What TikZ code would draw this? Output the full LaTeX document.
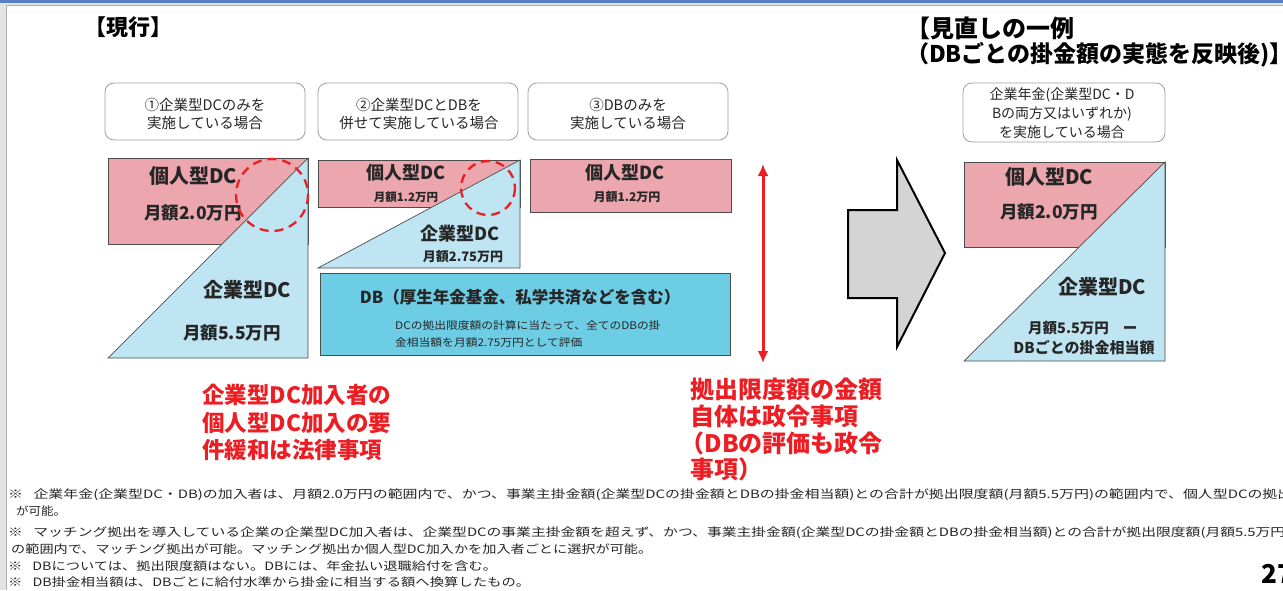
\documentclass[tikz,border=0pt]{standalone}
\usepackage{fontspec}
\setmainfont{Noto Sans CJK JP}
\usetikzlibrary{arrows.meta}
\definecolor{pinkc}{RGB}{235,166,174}
\definecolor{lblue}{RGB}{190,229,241}
\definecolor{dbc}{RGB}{108,205,228}
\definecolor{redc}{RGB}{236,30,36}
\definecolor{txt}{RGB}{38,38,38}
\definecolor{arrowg}{RGB}{212,212,212}
\definecolor{topblue}{RGB}{84,128,200}
\newcommand{\fsz}[2]{\fontsize{#1}{#2}\selectfont}
\newcommand{\fnw}[2]{\resizebox{#1pt}{\height}{#2}}
\begin{document}
\begin{tikzpicture}[x=1pt,y=-1pt,
  every node/.style={inner sep=0pt,text=txt},
  hd/.style={anchor=base west,font=\bfseries,text=black},
  casebox/.style={draw=gray!75,rounded corners=9pt,line width=0.8pt,fill=white},
  casetxt/.style={align=center,font=\fsz{14.5}{18}},
  pinkbox/.style={fill=pinkc,draw=black!70,line width=0.7pt},
  tri/.style={fill=lblue,draw=black!70,line width=0.7pt},
  ring/.style={draw=redc,line width=2.3pt,dash pattern=on 9pt off 6pt},
  lbl/.style={font=\bfseries},
  redtxt/.style={anchor=north west,align=left,text=redc,font=\bfseries},
  fn/.style={anchor=base west,font=\fsz{11.5}{14},text=black!85}
]
\useasboundingbox (0,0) rectangle (1283,590);
\clip (0,0) rectangle (1283,590);
\fill[white] (0,0) rectangle (1283,590);
% window frame
\fill[gray!22] (0,3) rectangle (6.5,590);
\fill[gray!22] (0,3) rectangle (1283,5.5);
\draw[gray!65,line width=0.8pt] (6.5,590) -- (6.5,5.5) -- (1283,5.5);
\fill[topblue] (0,0) rectangle (1283,3);

% headings
\node[hd,font=\fsz{22}{26}\bfseries] (h1) at (84,35.5) {【現行】};
\node[hd,font=\fsz{24}{28}\bfseries] (h2a) at (906,37) {【見直しの一例};
\node[hd,font=\fsz{23}{28}\bfseries] (h2b) at (906,62) {（DBごとの掛金額の実態を反映後)】};

% case boxes
\node[casebox,minimum width=200,minimum height=57] (c1) at (205,111.5) {};
\node[casetxt] (c1t) at (205,114) {①企業型DCのみを\\実施している場合};
\node[casebox,minimum width=200,minimum height=57] (c2) at (418,111.5) {};
\node[casetxt] (c2t) at (419,114) {②企業型DCとDBを\\併せて実施している場合};
\node[casebox,minimum width=200,minimum height=57] (c3) at (628,111.5) {};
\node[casetxt] (c3t) at (628,114) {③DBのみを\\実施している場合};
\node[casebox,minimum width=202,minimum height=59] (c4) at (1064,112.5) {};
\node[casetxt,font=\fsz{14}{19}] (c4t) at (1062,113.5) {企業年金(企業型DC・D\\Bの両方又はいずれか)\\を実施している場合};

% case 1
\draw[pinkbox] (108,158) rectangle (308,244);
\draw[tri] (108,358) -- (308,158) -- (308,358) -- cycle;
\node[lbl,font=\fsz{20}{24}\bfseries] (s1a) at (193,176) {個人型DC};
\node[lbl,font=\fsz{17.5}{20}\bfseries] (s1b) at (193,213) {月額2.0万円};
\node[lbl,font=\fsz{20}{24}\bfseries] (s1c) at (247,290) {企業型DC};
\node[lbl,font=\fsz{17.5}{20}\bfseries] (s1d) at (232,333) {月額5.5万円};
\draw[ring] (272,195) circle (36);

% case 2
\draw[pinkbox] (318,160) rectangle (520,207);
\draw[tri] (318,268) -- (520,160) -- (520,268) -- cycle;
\node[lbl,font=\fsz{18}{22}\bfseries] (s2a) at (406,173) {個人型DC};
\node[lbl,font=\fsz{11.5}{14}\bfseries] (s2b) at (406,197) {月額1.2万円};
\node[lbl,font=\fsz{18}{22}\bfseries] (s2c) at (460,234) {企業型DC};
\node[lbl,font=\fsz{13}{16}\bfseries] (s2d) at (463,257) {月額2.75万円};
\draw[ring] (488,188) circle (27);
\draw[fill=dbc,draw=black!70,line width=0.7pt] (320,273) rectangle (730,355);
\node[lbl,font=\fsz{16.5}{20}\bfseries] (db) at (520,297) {DB（厚生年金基金、私学共済などを含む）};
\node[anchor=base west,font=\fsz{10.5}{12}] (dbs1) at (395,329) {\scalebox{1.12}[1]{DCの拠出限度額の計算に当たって、全てのDBの掛}};
\node[anchor=base west,font=\fsz{10.5}{12}] (dbs2) at (395,346) {\scalebox{1.12}[1]{金相当額を月額2.75万円として評価}};

% case 3
\draw[pinkbox] (530,159) rectangle (731,212);
\node[lbl,font=\fsz{18}{22}\bfseries] (s3a) at (625,173) {個人型DC};
\node[lbl,font=\fsz{12}{14}\bfseries] (s3b) at (627,197) {月額1.2万円};

% red range arrow
\coordinate (ra1) at (763,164);
\coordinate (ra2) at (763,363);
\draw[redc,line width=3pt,{Latex[length=12pt,width=11pt]}-{Latex[length=12pt,width=11pt]}] (ra1) -- (ra2);

% big grey arrow
\draw[fill=arrowg,draw=black,line width=2pt,line join=miter]
  (848,210) -- (897,210) -- (897,160) -- (945,253) -- (897,347) -- (897,298) -- (848,298) -- cycle;

% revised case
\draw[pinkbox] (964,162) rectangle (1165,247);
\draw[tri] (964,361) -- (1165,162) -- (1165,361) -- cycle;
\node[lbl,font=\fsz{20}{24}\bfseries] (r1) at (1049,177) {個人型DC};
\node[lbl,font=\fsz{17.5}{20}\bfseries] (r2) at (1049,212) {月額2.0万円};
\node[lbl,font=\fsz{20}{24}\bfseries] (r3) at (1102,287) {企業型DC};
\node[lbl,font=\fsz{14.5}{18}\bfseries,anchor=west] (r4) at (1028,328) {月額5.5万円\hspace{14pt}ー};
\node[lbl,font=\fsz{15}{18}\bfseries] (r5) at (1084,348) {DBごとの掛金相当額};

% red notes
\node[redtxt,font=\fsz{22.5}{27.5}\bfseries] (n1) at (202,384) {企業型DC加入者の\\個人型DC加入の要\\件緩和は法律事項};
\node[redtxt,font=\fsz{24}{26.7}\bfseries] (n2) at (690,378) {拠出限度額の金額\\自体は政令事項\\\hspace*{-0.4em}（DBの評価も政令\\事項）};

% footnotes
\node[fn] (f1) at (8,498.5) {\fnw{1284}{※\hspace{0.7em}企業年金(企業型DC・DB)の加入者は、月額2.0万円の範囲内で、かつ、事業主掛金額(企業型DCの掛金額とDBの掛金相当額)との合計が拠出限度額(月額5.5万円)の範囲内で、個人型DCの拠出}};
\node[fn] (f2) at (16,515.5) {\fnw{50}{が可能。}};
\node[fn] (f3) at (8,536) {\fnw{1282}{※\hspace{0.7em}マッチング拠出を導入している企業の企業型DC加入者は、企業型DCの事業主掛金額を超えず、かつ、事業主掛金額(企業型DCの掛金額とDBの掛金相当額)との合計が拠出限度額(月額5.5万円)}};
\node[fn] (f4) at (11,553.5) {\fnw{641}{の範囲内で、マッチング拠出が可能。マッチング拠出か個人型DC加入かを加入者ごとに選択が可能。}};
\node[fn] (f5) at (8,570.5) {\fnw{489}{※\hspace{0.7em}DBについては、拠出限度額はない。DBには、年金払い退職給付を含む。}};
\node[fn] (f6) at (8,586.5) {\fnw{522}{※\hspace{0.7em}DB掛金相当額は、DBごとに給付水準から掛金に相当する額へ換算したもの。}};
\node[anchor=base west,font=\fsz{26}{30}\bfseries,text=black] (pg) at (1261,583) {27};
\end{tikzpicture}
\end{document}
